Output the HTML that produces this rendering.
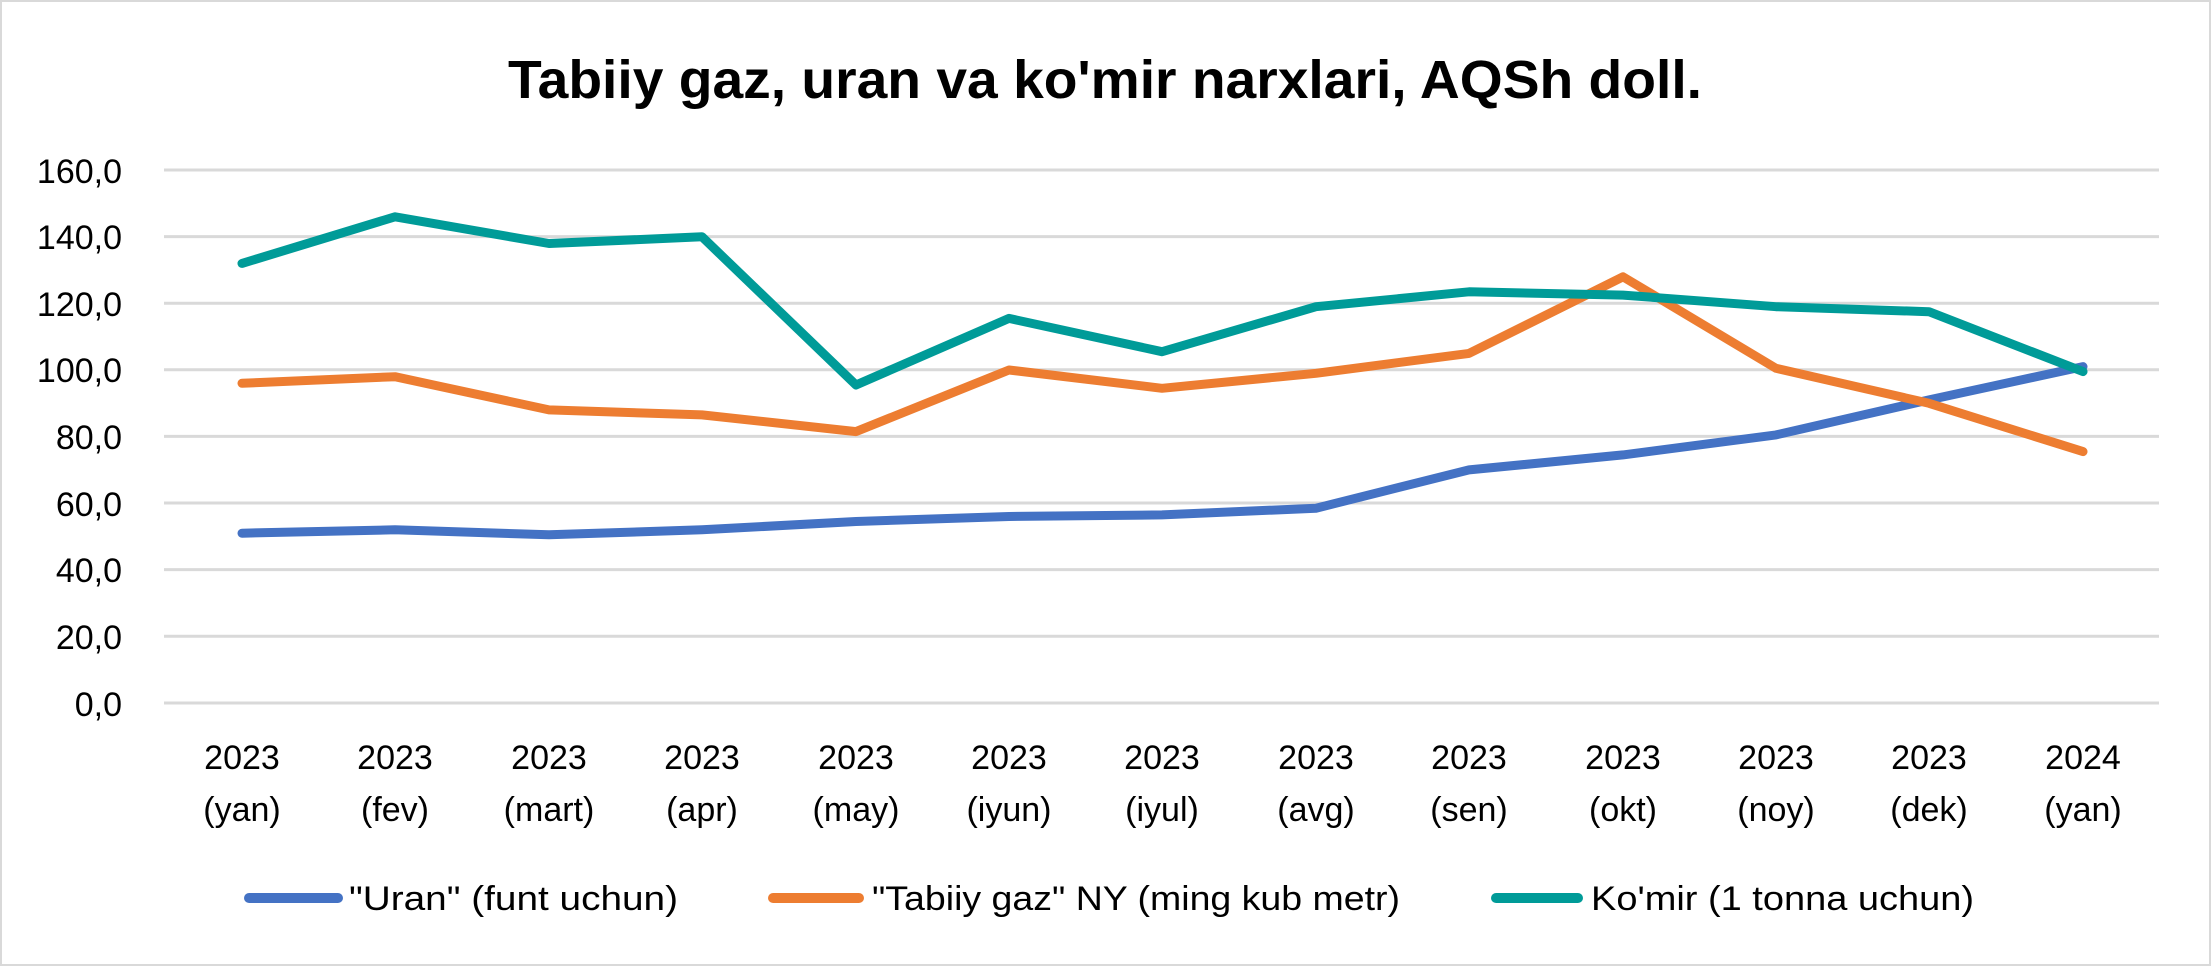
<!DOCTYPE html>
<html><head><meta charset="utf-8"><style>html,body{margin:0;padding:0;background:#fff}svg{display:block}</style></head>
<body>
<svg width="2211" height="966" viewBox="0 0 2211 966" xmlns="http://www.w3.org/2000/svg" font-family="'Liberation Sans', sans-serif">
<rect x="1" y="1" width="2209" height="964" fill="#fff" stroke="#d9d9d9" stroke-width="2"/>
<text x="1105" y="98" text-anchor="middle" font-size="54" font-weight="bold" textLength="1194" lengthAdjust="spacingAndGlyphs">Tabiiy gaz, uran va ko'mir narxlari, AQSh doll.</text>
<g stroke="#d9d9d9" stroke-width="3">
<line x1="164" x2="2159" y1="170" y2="170"/><line x1="164" x2="2159" y1="236.6" y2="236.6"/>
<line x1="164" x2="2159" y1="303.2" y2="303.2"/><line x1="164" x2="2159" y1="369.8" y2="369.8"/>
<line x1="164" x2="2159" y1="436.4" y2="436.4"/><line x1="164" x2="2159" y1="503" y2="503"/>
<line x1="164" x2="2159" y1="569.6" y2="569.6"/><line x1="164" x2="2159" y1="636.2" y2="636.2"/>
<line x1="164" x2="2159" y1="703" y2="703"/>
</g>
<g font-size="34" text-anchor="end" fill="#000">
<text x="122" y="183">160,0</text><text x="122" y="249">140,0</text><text x="122" y="316">120,0</text>
<text x="122" y="382">100,0</text><text x="122" y="449">80,0</text><text x="122" y="516">60,0</text>
<text x="122" y="582">40,0</text><text x="122" y="649">20,0</text><text x="122" y="716">0,0</text>
</g>
<g font-size="34" text-anchor="middle" fill="#000">
<text x="242" y="769">2023</text><text x="242" y="821">(yan)</text>
<text x="395" y="769">2023</text><text x="395" y="821">(fev)</text>
<text x="549" y="769">2023</text><text x="549" y="821">(mart)</text>
<text x="702" y="769">2023</text><text x="702" y="821">(apr)</text>
<text x="856" y="769">2023</text><text x="856" y="821">(may)</text>
<text x="1009" y="769">2023</text><text x="1009" y="821">(iyun)</text>
<text x="1162" y="769">2023</text><text x="1162" y="821">(iyul)</text>
<text x="1316" y="769">2023</text><text x="1316" y="821">(avg)</text>
<text x="1469" y="769">2023</text><text x="1469" y="821">(sen)</text>
<text x="1623" y="769">2023</text><text x="1623" y="821">(okt)</text>
<text x="1776" y="769">2023</text><text x="1776" y="821">(noy)</text>
<text x="1929" y="769">2023</text><text x="1929" y="821">(dek)</text>
<text x="2083" y="769">2024</text><text x="2083" y="821">(yan)</text>
</g>
<g fill="none" stroke-width="9" stroke-linejoin="round" stroke-linecap="round">
<polyline stroke="#4472C4" points="242,533.2 395,529.8 549,534.8 702,529.8 856,521.5 1009,516.5 1162,514.9 1316,508.2 1469,469.9 1623,454.9 1776,434.9 1929,399.9 2083,366.6"/>
<polyline stroke="#ED7D31" points="242,383.3 395,376.7 549,409.9 702,414.9 856,431.6 1009,370 1162,388.3 1316,373.3 1469,353.4 1623,276.8 1776,368.3 1929,403.3 2083,451.6"/>
<polyline stroke="#009B98" points="242,263.4 395,216.8 549,243.5 702,236.8 856,385 1009,318.4 1162,351.7 1316,306.7 1469,291.8 1623,295.1 1776,306.7 1929,311.7 2083,371.6"/>
</g>
<g stroke-width="10" stroke-linecap="round">
<line x1="249" x2="338" y1="898" y2="898" stroke="#4472C4"/>
<line x1="773" x2="859" y1="898" y2="898" stroke="#ED7D31"/>
<line x1="1496" x2="1578" y1="898" y2="898" stroke="#009B98"/>
</g>
<g font-size="34" fill="#000">
<text x="349" y="910" textLength="329" lengthAdjust="spacingAndGlyphs">"Uran" (funt uchun)</text>
<text x="872" y="910" textLength="528" lengthAdjust="spacingAndGlyphs">"Tabiiy gaz" NY (ming kub metr)</text>
<text x="1591" y="910" textLength="383" lengthAdjust="spacingAndGlyphs">Ko'mir (1 tonna uchun)</text>
</g>
</svg>
</body></html>
